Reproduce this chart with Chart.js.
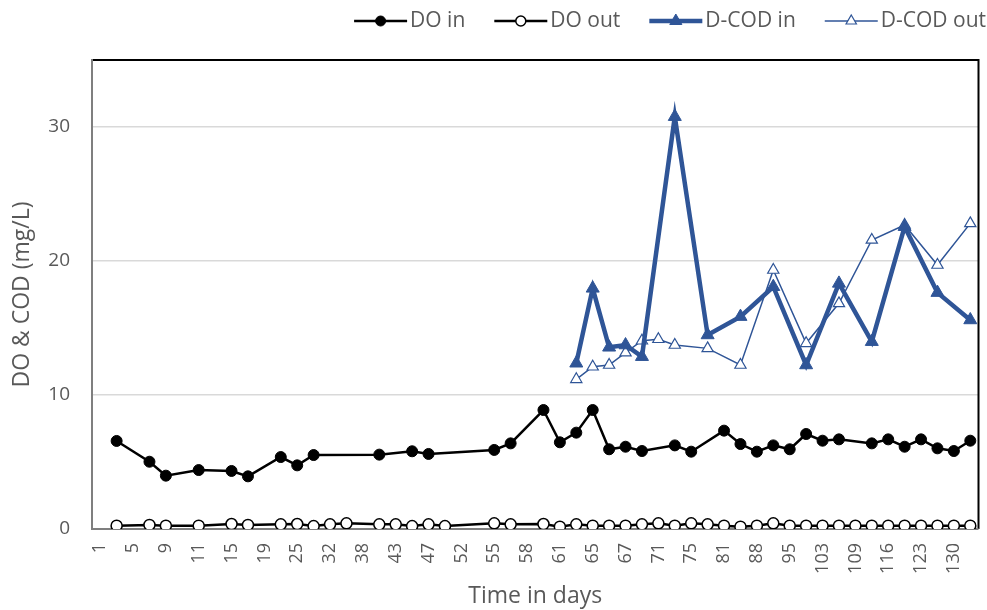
<!DOCTYPE html>
<html>
<head>
<meta charset="utf-8">
<script src="https://cdn.jsdelivr.net/npm/chart.js@4"></script>
<style>
    body { margin: 0; background: #fff; overflow: hidden; }
    #wrap { width: 987px; height: 610px; }
</style>
</head>
<body>
<div id="wrap"><canvas id="doChart"></canvas></div>
<script>
// days (only every other one is shown on the axis)
const days = [1, 3, 5, 7, 9, 10, 11, 13, 15, 17,
    19, 22, 25, 29, 32, 35, 38, 40, 43, 45,
    47, 50, 52, 54, 55, 57, 58, 60, 61, 63,
    65, 66, 67, 69, 71, 73, 75, 78, 81, 85,
    88, 91, 95, 99, 103, 106, 109, 113, 116, 120,
    123, 127, 130, 133]

const doIn = [null, 6.57, null, 5.02, 3.98, null, 4.40, null, 4.33, 3.93,
    null, 5.37, 4.75, 5.52, null, null, null, 5.55, null, 5.80,
    5.60, null, null, null, 5.90, 6.39, null, 8.88, 6.47, 7.19,
    8.88, 5.95, 6.14, 5.82, null, 6.24, 5.77, null, 7.34, 6.34,
    5.77, 6.24, 5.95, 7.09, 6.59, 6.69, null, 6.39, 6.69, 6.14,
    6.69, 6.02, 5.82, 6.59]

const doOut = [null, 0.25, null, 0.30, 0.25, null, 0.25, null, 0.37, 0.30,
    null, 0.35, 0.37, 0.22, 0.35, 0.42, null, 0.35, 0.35, 0.22,
    0.35, 0.22, null, null, 0.42, 0.35, null, 0.37, 0.17, 0.35,
    0.25, 0.25, 0.25, 0.35, 0.42, 0.25, 0.42, 0.35, 0.25, 0.17,
    0.25, 0.42, 0.25, 0.25, 0.25, 0.25, 0.25, 0.25, 0.25, 0.25,
    0.25, 0.25, 0.25, 0.25]

const codIn = [null, null, null, null, null, null, null, null, null, null,
    null, null, null, null, null, null, null, null, null, null,
    null, null, null, null, null, null, null, null, null, 12.37,
    17.96, 13.56, 13.73, 12.86, null, 30.77, null, 14.48, null, 15.85,
    null, 18.08, null, 12.24, null, 18.33, null, 13.98, null, 22.56,
    null, 17.64, null, 15.60]

const codOut = [null, null, null, null, null, null, null, null, null, null,
    null, null, null, null, null, null, null, null, null, null,
    null, null, null, null, null, null, null, null, null, 11.17,
    12.11, 12.24, 13.16, 14.05, 14.16, 13.73, null, 13.48, null, 12.24,
    null, 19.33, null, 13.86, null, 16.84, null, 21.57, null, 22.69,
    null, 19.70, null, 22.81]

const blue = '#2F5597'
const grey = '#595959'

// Excel-like legend: a short line with the marker on it, right aligned at the top
const lineLegend = {
    id: 'lineLegend',
    afterDraw(chart) {
        const ctx = chart.ctx
        ctx.save()
        ctx.font = '21px "Open Sans"'
        ctx.textBaseline = 'middle'
        let x = 986
        const y = 21
        const sets = chart.data.datasets.slice().reverse()
        sets.forEach(ds => {
            const w = ctx.measureText(ds.label).width
            x -= w
            ctx.fillStyle = grey
            ctx.fillText(ds.label, x, y)
            x -= 3
            ctx.strokeStyle = ds.borderColor
            ctx.lineWidth = ds.borderWidth
            ctx.beginPath()
            ctx.moveTo(x - 53, y)
            ctx.lineTo(x, y)
            ctx.stroke()
            ctx.fillStyle = ds.pointBackgroundColor
            ctx.strokeStyle = ds.pointBorderColor
            ctx.lineWidth = ds.pointBorderWidth
            Chart.helpers.drawPoint(ctx, {
                pointStyle: ds.pointStyle,
                radius: ds.pointRadius - 0.5,
                rotation: 0,
                borderWidth: ds.pointBorderWidth
            }, x - 26.5, y)
            x -= 53 + 29
        })
        ctx.restore()
    }
}

// plot area frame
const plotFrame = {
    id: 'plotFrame',
    beforeDatasetsDraw(chart) {
        const a = chart.chartArea
        const ctx = chart.ctx
        ctx.save()
        ctx.lineWidth = 2
        ctx.strokeStyle = '#000'
        ctx.beginPath()
        ctx.moveTo(a.left, a.top)
        ctx.lineTo(a.right, a.top)
        ctx.lineTo(a.right, a.bottom)
        ctx.stroke()
        ctx.strokeStyle = '#7f7f7f'
        ctx.beginPath()
        ctx.moveTo(a.left, a.top - 1)
        ctx.lineTo(a.left, a.bottom)
        ctx.lineTo(a.right, a.bottom)
        ctx.stroke()
        ctx.restore()
    }
}

const chartEl = document.getElementById('doChart')

new Chart(chartEl, {
    type: 'line',
    data: {
        labels: days,
        datasets: [{
            label: 'DO in',
            data: doIn,
            borderColor: '#000',
            borderWidth: 2.5,
            pointStyle: 'circle',
            pointRadius: 5.5,
            pointBackgroundColor: '#000',
            pointBorderColor: '#000',
            pointBorderWidth: 1
        }, {
            label: 'DO out',
            data: doOut,
            borderColor: '#000',
            borderWidth: 2.5,
            pointStyle: 'circle',
            pointRadius: 5.5,
            pointBackgroundColor: '#fff',
            pointBorderColor: '#000',
            pointBorderWidth: 1.5
        }, {
            label: 'D-COD in',
            data: codIn,
            borderColor: blue,
            borderWidth: 4.5,
            pointStyle: 'triangle',
            pointRadius: 7.5,
            pointBackgroundColor: blue,
            pointBorderColor: blue,
            pointBorderWidth: 1
        }, {
            label: 'D-COD out',
            data: codOut,
            borderColor: blue,
            borderWidth: 1.5,
            pointStyle: 'triangle',
            pointRadius: 6.5,
            pointBackgroundColor: '#fff',
            pointBorderColor: blue,
            pointBorderWidth: 1.2
        }]
    },
    options: {
        responsive: true,
        maintainAspectRatio: false,
        animation: false,
        spanGaps: true,
        layout: {
            padding: { top: 60, right: -5, left: 0, bottom: 0 }
        },
        plugins: {
            legend: { display: false },
            tooltip: { enabled: false }
        },
        scales: {
            x: {
                type: 'category',
                offset: true,
                grid: { display: false, drawTicks: false },
                border: { display: false },
                ticks: {
                    autoSkip: false,
                    minRotation: 90,
                    maxRotation: 90,
                    padding: 14,
                    color: grey,
                    font: { family: 'Open Sans', size: 18 },
                    callback: function (value, index) {
                        return index % 2 === 0 ? days[index] : ''
                    }
                },
                title: {
                    display: true,
                    text: 'Time in days',
                    color: grey,
                    font: { family: 'Open Sans', size: 23 },
                    padding: { top: 0, bottom: 0 }
                },
                afterFit: function (scale) {
                    scale.height = 81
                    scale.paddingLeft = 0
                    scale.paddingRight = 0
                }
            },
            y: {
                min: 0,
                max: 35,
                grid: {
                    color: function (c) {
                        return c.tick.value % 10 === 0 && c.tick.value > 0 ? '#d9d9d9' : 'rgba(0,0,0,0)'
                    },
                    lineWidth: 1.5,
                    drawTicks: false
                },
                border: { display: false },
                ticks: {
                    stepSize: 10,
                    padding: 22,
                    color: grey,
                    font: { family: 'Open Sans', size: 19 },
                    callback: function (v) { return v % 10 === 0 ? v : '' }
                },
                title: {
                    display: true,
                    text: 'DO & COD (mg/L)',
                    color: grey,
                    font: { family: 'Open Sans', size: 23 },
                    padding: { top: 9, bottom: 0 }
                },
                afterFit: function (scale) { scale.width = 92 }
            }
        }
    },
    plugins: [plotFrame, lineLegend]
})
</script>
</body>
</html>
